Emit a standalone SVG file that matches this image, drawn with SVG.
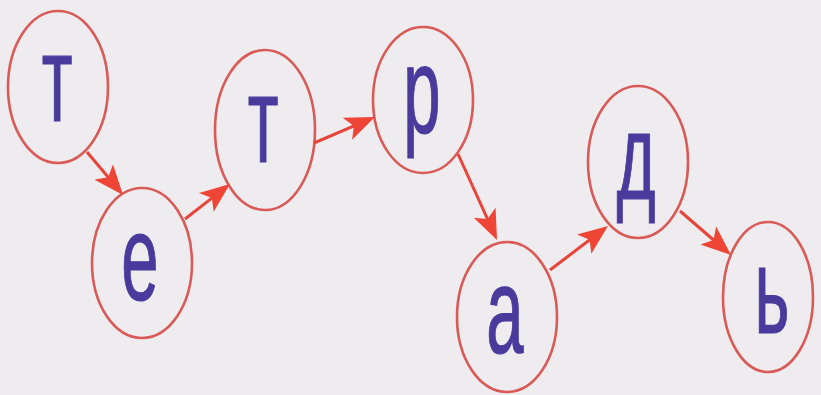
<svg xmlns="http://www.w3.org/2000/svg" width="821" height="395" viewBox="0 0 821 395">
  <style>
    .node ellipse { fill: none; stroke: #d95a57; stroke-width: 2.6; }
    .node text { font-family: "Liberation Sans", Arial, sans-serif; font-size: 122px; fill: #4a3a9c; stroke: #4a3a9c; stroke-width: 1.2; text-anchor: middle; }
    .conn line { stroke: #e8453a; stroke-width: 3; fill: none; }
  </style>
  <defs>
    <marker id="ah" viewBox="0 0 30 24" refX="20" refY="12" markerWidth="30" markerHeight="24" markerUnits="userSpaceOnUse" orient="auto">
      <path d="M0,0 L30,12 L0,24 L7,12 z" fill="#ef4536"/>
    </marker>
  </defs>
  <rect width="821" height="395" fill="#eeecef"/>

  <g id="n1" class="node">
    <ellipse cx="58" cy="87" rx="50" ry="76"/>
    <text transform="translate(57,121) scale(0.55,1)">т</text>
  </g>
  <g id="n2" class="node">
    <ellipse cx="142" cy="263" rx="50" ry="75"/>
    <text transform="translate(140,300) scale(0.55,1)">е</text>
  </g>
  <g id="n3" class="node">
    <ellipse cx="265" cy="130" rx="50" ry="80"/>
    <text transform="translate(263,162) scale(0.55,1)">т</text>
  </g>
  <g id="n4" class="node">
    <ellipse cx="423" cy="100" rx="50" ry="73"/>
    <text transform="translate(422,133) scale(0.55,1)">р</text>
  </g>
  <g id="n5" class="node">
    <ellipse cx="507" cy="317" rx="50" ry="75"/>
    <text transform="translate(505,353) scale(0.55,1)">а</text>
  </g>
  <g id="n6" class="node">
    <ellipse cx="638" cy="162" rx="50" ry="76"/>
    <text transform="translate(636,199) scale(0.55,1)">д</text>
  </g>
  <g id="n7" class="node">
    <ellipse cx="768" cy="297" rx="45" ry="75"/>
    <text transform="translate(772,333) scale(0.55,1)">ь</text>
  </g>

  <g id="connectors" class="conn">
    <line x1="87" y1="152" x2="116.6" y2="187.3" marker-end="url(#ah)"/>
    <line x1="185" y1="219" x2="222.1" y2="190.1" marker-end="url(#ah)"/>
    <line x1="314" y1="143" x2="365.8" y2="120.9" marker-end="url(#ah)"/>
    <line x1="458" y1="154" x2="492.9" y2="230.9" marker-end="url(#ah)"/>
    <line x1="550" y1="270" x2="600" y2="232" marker-end="url(#ah)"/>
    <line x1="680" y1="211" x2="723.4" y2="248.5" marker-end="url(#ah)"/>
  </g>
</svg>
